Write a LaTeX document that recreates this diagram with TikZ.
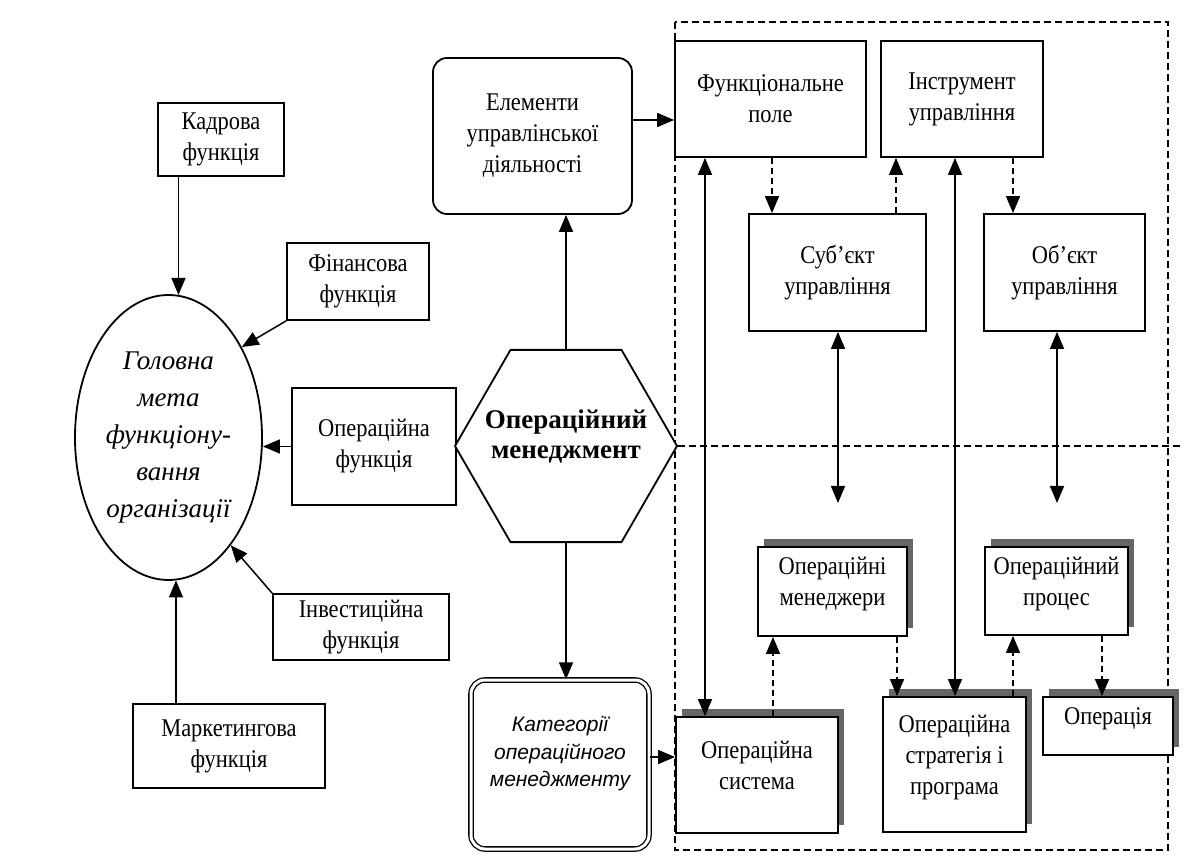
\documentclass[tikz,border=0pt]{standalone}
\usepackage{fontspec}
\setmainfont{Liberation Serif}
\setsansfont{Liberation Sans}
\newfontfamily\condfont{Liberation Serif}[FakeStretch=0.88]
\usetikzlibrary{arrows.meta}
\usetikzlibrary{shapes.geometric}
\usetikzlibrary{shadows}

\begin{document}
\begin{tikzpicture}[x=1pt,y=-1pt,
		box/.style={draw, line width=1.8pt, fill=white, align=center, inner sep=2pt,
			font=\condfont\fontsize{25.5}{31}\selectfont},
		shbox/.style={box, text depth=20pt,
			drop shadow={shadow xshift=6pt, shadow yshift=8pt, fill=black!60, opacity=1}},
		arr/.style={line width=1.5pt, -{Triangle[length=17pt,width=14pt]}},
		darr/.style={arr, {Triangle[length=17pt,width=14pt]}-{Triangle[length=17pt,width=14pt]}},
		dasharr/.style={arr, dash pattern=on 6pt off 4pt},
		frame/.style={line width=1.5pt, dash pattern=on 7pt off 4pt}]
		\useasboundingbox (0,0) rectangle (1184,866);

		% Draw the dashed frame
		\draw[frame] (675,22) rectangle (1168,850);

		% Define the functions round the goal
		\node[draw, ellipse, line width=1.8pt, minimum width=187pt, minimum height=285pt, inner sep=0pt,
			align=center, font=\itshape\fontsize{27}{37}\selectfont] (goal) at (168.5,437.5)
			{Головна\\мета\\функціону-\\вання\\організації};
		\node[box, minimum width=126pt, minimum height=73pt] (kadr) at (221,139.5) {Кадрова\\функція};
		\node[box, minimum width=142pt, minimum height=77pt] (fin) at (358,281.5) {Фінансова\\функція};
		\node[box, minimum width=164pt, minimum height=117pt] (opf) at (374,446.5) {Операційна\\функція};
		\node[box, minimum width=176pt, minimum height=66pt] (inv) at (361,627) {Інвестиційна\\функція};
		\node[box, minimum width=192pt, minimum height=84pt] (mark) at (229,746) {Маркетингова\\функція};

		% Define the middle column
		\node[box, rounded corners=14pt, minimum width=199pt, minimum height=156pt] (elem) at (532.5,136)
			{Елементи\\управлінської\\діяльності};
		\node[draw, regular polygon, regular polygon sides=6, minimum size=222pt, line width=1.8pt,
			fill=white, inner sep=0pt] (hex) at (566,446) {};
		\node[align=center, font=\bfseries\fontsize{27}{30}\selectfont] (hexlbl) at (566,436)
			{Операційний\\менеджмент};
		\node[box, double, double distance=3pt, line width=1.3pt, rounded corners=14pt,
			minimum width=178pt, minimum height=169pt, text depth=26pt,
			font=\sffamily\itshape\fontsize{21}{27.5}\selectfont] (cat) at (560,764.5)
			{Категорії\\операційного\\менеджменту};
		\draw[frame] (hex.east) -- (1184,446);

		% Define the boxes in the frame
		\node[box, minimum width=191pt, minimum height=116pt] (fpole) at (770.5,99) {Функціональне\\поле};
		\node[box, minimum width=162pt, minimum height=116pt] (instr) at (962,99) {Інструмент\\управління};
		\node[box, minimum width=177pt, minimum height=117pt] (subj) at (837.5,272.5) {Суб’єкт\\управління};
		\node[box, minimum width=161pt, minimum height=117pt] (obj) at (1064.5,272.5) {Об’єкт\\управління};
		\node[shbox, minimum width=149pt, minimum height=89pt] (mgrs) at (832.5,591.5) {Операційні\\менеджери};
		\node[shbox, minimum width=143pt, minimum height=88pt] (proc) at (1056.5,591) {Операційний\\процес};
		\node[shbox, minimum width=162pt, minimum height=116pt] (osys) at (757,775) {Операційна\\система};
		\node[shbox, minimum width=143pt, minimum height=135pt] (strat) at (954.5,764.5)
			{Операційна\\стратегія і\\програма};
		\node[shbox, minimum width=130pt, minimum height=58pt] (oper) at (1108,726) {Операція};

		% Draw the arrows to the goal
		\draw[arr] (kadr.south -| goal.86) -- (goal.86);
		\draw[arr] (fin.south west) -- (goal.51);
		\draw[arr] (opf.west) -- (opf.west -| goal.east);
		\draw[arr] (inv.north west) -- (goal.-60);
		\draw[arr] (mark.north -| goal.-87) -- (goal.-87);

		% Draw the arrows of the middle column
		\draw[arr] (hex.north) -- (hex.north |- elem.south);
		\draw[arr] (hex.south) -- (hex.south |- cat.north);
		\draw[arr] (elem.east |- 0,120) -- (fpole.west |- 0,120);
		\draw[arr] (cat.east |- 0,757) -- (osys.west |- 0,757);

		% Draw the arrows in the frame
		\coordinate (m1) at (838,503);
		\coordinate (p1) at (1057,503);
		\draw[darr] (fpole.south -| 705,0) -- (osys.north -| 705,0);
		\draw[darr] (instr.south -| 955,0) -- (strat.north -| 955,0);
		\draw[darr] (subj.south -| m1) -- (m1);
		\draw[darr] (obj.south -| p1) -- (p1);
		\draw[dasharr] (fpole.south -| 772,0) -- (subj.north -| 772,0);
		\draw[dasharr] (subj.north -| 896,0) -- (instr.south -| 896,0);
		\draw[dasharr] (instr.south -| 1013,0) -- (obj.north -| 1013,0);
		\draw[dasharr] (osys.north -| 773,0) -- (mgrs.south -| 773,0);
		\draw[dasharr] (mgrs.south -| 897,0) -- (strat.north -| 897,0);
		\draw[dasharr] (strat.north -| 1013,0) -- (proc.south -| 1013,0);
		\draw[dasharr] (proc.south -| 1102,0) -- (oper.north -| 1102,0);
\end{tikzpicture}
\end{document}
